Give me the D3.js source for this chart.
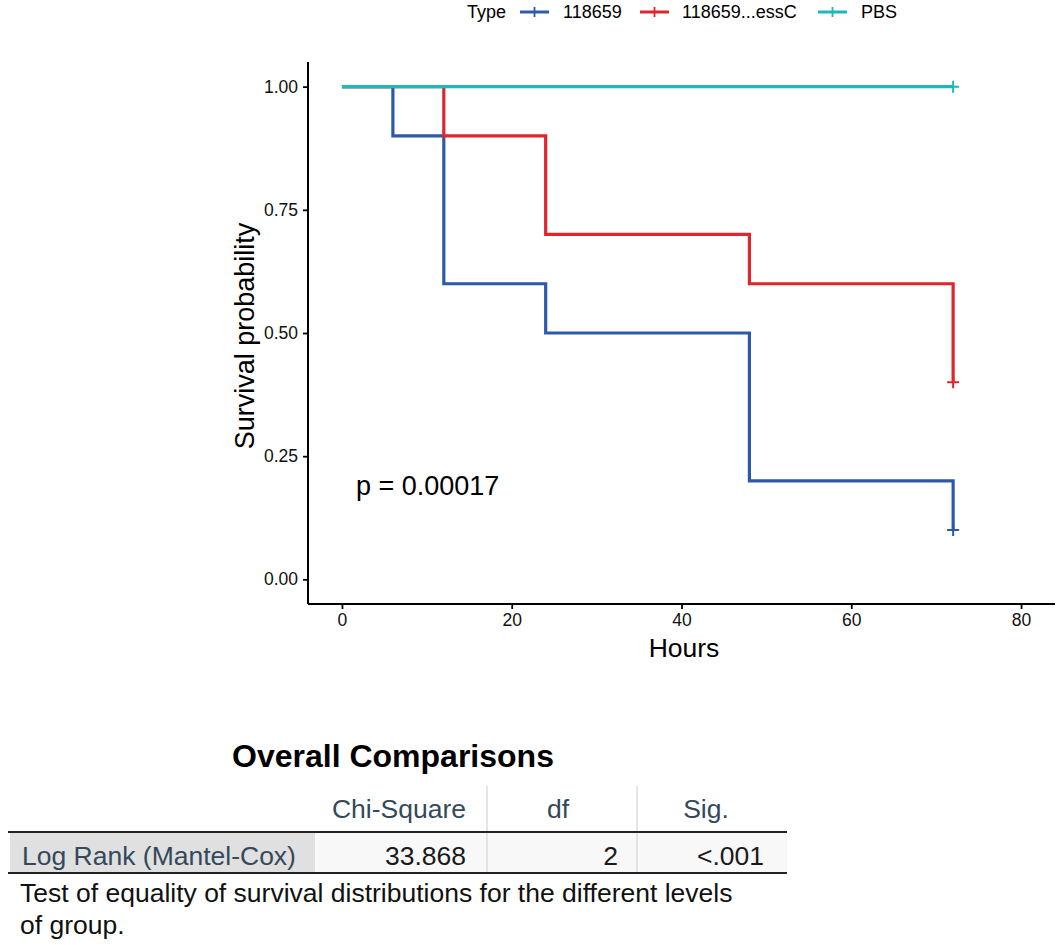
<!DOCTYPE html>
<html>
<head>
<meta charset="utf-8">
<script src="https://cdn.jsdelivr.net/npm/d3@7"></script>
<style>
html,body{margin:0;padding:0;background:#fff;}
svg{display:block;font-family:"Liberation Sans",Arial,sans-serif;}
</style>
</head>
<body>
<svg id="chart" width="1063" height="945"></svg>
<script>
// ---- data ----
const seriesNames = ["118659", "118659...essC", "PBS"];
const seriesColors = ["#2c5aa8", "#e0252d", "#1fb6bd"];
const times118659 = [0, 6, 12, 24, 48, 72];
const surv118659 = [1.0, 0.9, 0.6, 0.5, 0.2, 0.1];
const timesEssC = [0, 12, 24, 48, 72];
const survEssC = [1.0, 0.9, 0.7, 0.6, 0.4];
const timesPBS = [0, 72];
const survPBS = [1.0, 1.0];
const censorTime = [72, 72, 72];
const censorSurv = [0.1, 0.4, 1.0];
const xTicks = [0, 20, 40, 60, 80];
const yTicks = [0, 0.25, 0.5, 0.75, 1.0];
const pLabel = "p = 0.00017";
const tableTitle = "Overall Comparisons";
const tableHeaders = ["Chi-Square", "df", "Sig."];
const tableRowLabel = "Log Rank (Mantel-Cox)";
const tableValues = ["33.868", "2", "<.001"];
const footnote = ["Test of equality of survival distributions for the different levels", "of group."];

const svg = d3.select("#chart");
const x = d3.scaleLinear().domain([-4, 84]).range([308, 1055]);
const y = d3.scaleLinear().domain([-0.05, 1.05]).range([604, 62]);

// axes
const gx = svg.append("g").attr("transform", `translate(0,${y.range()[0]})`)
  .call(d3.axisBottom(x).tickValues(xTicks).tickSize(5).tickSizeOuter(0).tickPadding(5));
const gy = svg.append("g").attr("transform", `translate(${x.range()[0]},0)`)
  .call(d3.axisLeft(y).tickValues(yTicks).tickFormat(d3.format(".2f")).tickSize(5).tickSizeOuter(0).tickPadding(5));
[gx, gy].forEach(g => {
  g.select(".domain").attr("stroke", "#000").attr("stroke-width", 2);
  g.selectAll(".tick line").attr("stroke", "#000").attr("stroke-width", 1.8);
  g.selectAll(".tick text").attr("fill", "#111").style("font-size", "17.5px").style("font-family", "'Liberation Sans',Arial,sans-serif");
});
gx.select(".domain").attr("d", `M${x.range()[0]},0H${x.range()[1]}`);
gy.select(".domain").attr("d", `M0,${y.range()[0]}V${y.range()[1]}`);

// axis titles
svg.append("text").attr("x", 684).attr("y", 657).attr("text-anchor", "middle")
  .style("font-size", "26.5px").attr("fill", "#000").text("Hours");
svg.append("text").attr("transform", "translate(254,336) rotate(-90)").attr("text-anchor", "middle")
  .style("font-size", "27px").attr("fill", "#000").text("Survival probability");

// curves
const series = [
  {t: times118659, s: surv118659},
  {t: timesEssC, s: survEssC},
  {t: timesPBS, s: survPBS}
];
const line = d3.line().x(d => x(d[0])).y(d => y(d[1])).curve(d3.curveStepAfter);
[0, 1, 2].forEach(i => {
  const pts = series[i].t.map((t, j) => [t, series[i].s[j]]);
  svg.append("path").datum(pts).attr("d", line)
    .attr("fill", "none").attr("stroke", seriesColors[i]).attr("stroke-width", 3.2)
    .attr("stroke-linejoin", "miter").attr("stroke-linecap", "butt");
});
// censor marks
censorTime.forEach((t, i) => {
  const cx = x(t), cy = y(censorSurv[i]);
  svg.append("path").attr("d", `M${cx-6},${cy}H${cx+6}M${cx},${cy-6}V${cy+6}`)
    .attr("stroke", seriesColors[i]).attr("stroke-width", 2).attr("fill", "none");
});

// p-value
svg.append("text").attr("x", 356).attr("y", 495).style("font-size", "27px").attr("fill", "#000").text(pLabel);

// legend
const lg = svg.append("g");
lg.append("text").attr("x", 467).attr("y", 18).style("font-size", "18px").attr("fill", "#000").text("Type");
const keyX = [520, 640, 818];
const labX = [563, 682, 861];
seriesNames.forEach((n, i) => {
  const k = keyX[i];
  lg.append("path").attr("d", `M${k},12H${k+29}`).attr("stroke", seriesColors[i]).attr("stroke-width", 3);
  lg.append("path").attr("d", `M${k+14.5},7V17`).attr("stroke", seriesColors[i]).attr("stroke-width", 1.8);
  lg.append("text").attr("x", labX[i]).attr("y", 18).style("font-size", "18px").attr("fill", "#000").text(n);
});

// table
const tb = svg.append("g");
tb.append("text").attr("x", 393).attr("y", 767).attr("text-anchor", "middle")
  .style("font-size", "32px").style("font-weight", "bold").attr("fill", "#000").text(tableTitle);
tb.append("rect").attr("x", 10).attr("y", 833).attr("width", 305).attr("height", 40).attr("fill", "#e0e0e0");
tb.append("rect").attr("x", 315).attr("y", 833).attr("width", 472).attr("height", 40).attr("fill", "#f8f8f8");
[487, 637].forEach(xx => {
  tb.append("line").attr("x1", xx).attr("x2", xx).attr("y1", 786).attr("y2", 873)
    .attr("stroke", "#d6d6d6").attr("stroke-width", 1.2);
});
tb.append("line").attr("x1", 8).attr("x2", 787).attr("y1", 832).attr("y2", 832).attr("stroke", "#222").attr("stroke-width", 2.2);
tb.append("line").attr("x1", 8).attr("x2", 787).attr("y1", 873).attr("y2", 873).attr("stroke", "#222").attr("stroke-width", 2.2);
const hdrX = [466, 558, 706];
const hdrAnchor = ["end", "middle", "middle"];
tableHeaders.forEach((h, i) => {
  tb.append("text").attr("x", hdrX[i]).attr("y", 818).attr("text-anchor", hdrAnchor[i])
    .style("font-size", "26.5px").attr("fill", "#34495a").text(h);
});
tb.append("text").attr("x", 22).attr("y", 865).style("font-size", "26.5px").attr("fill", "#34495a").text(tableRowLabel);
const valX = [466, 618, 764];
tableValues.forEach((v, i) => {
  tb.append("text").attr("x", valX[i]).attr("y", 865).attr("text-anchor", "end")
    .style("font-size", "26.5px").attr("fill", "#1a1a1a").text(v);
});
footnote.forEach((f, i) => {
  tb.append("text").attr("x", 20).attr("y", 902 + i * 32).style("font-size", "26.5px").attr("fill", "#111").text(f);
});
</script>
</body>
</html>
